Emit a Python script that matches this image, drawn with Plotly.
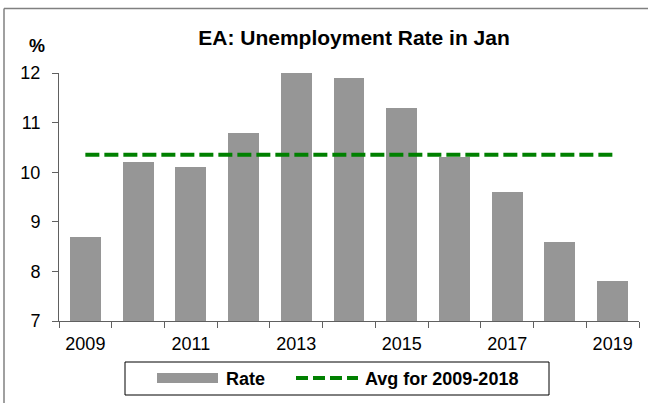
import plotly.graph_objects as go

# ---- data ----
years = [2009, 2010, 2011, 2012, 2013, 2014, 2015, 2016, 2017, 2018, 2019]
rate = [8.7, 10.2, 10.1, 10.8, 12.0, 11.9, 11.3, 10.3, 9.6, 8.6, 7.8]
avg_value = 10.35
avg_years = [2009, 2019]
tick_years = [2009, 2011, 2013, 2015, 2017, 2019]
tick_text = [str(y) for y in tick_years]
boundaries = [2008.5 + i for i in range(12)]
title_text = "EA: Unemployment Rate in Jan"
rate_name = "Rate"
avg_name = "Avg for 2009-2018"

W, H = 648, 403
L, R, T, B = 59, 9, 73, 82
PW = W - L - R
PH = H - T - B

def px_x(px):
    return (px - L) / PW

def px_y(py):
    return (H - B - py) / PH

FONT = "Liberation Sans, Arial, sans-serif"
AXC = "#606060"
GREEN = "#008000"
GREY = "#969696"

fig = go.Figure()
fig.add_trace(go.Bar(x=years, y=rate, width=0.585, marker=dict(color=GREY, line=dict(width=0)),
                     name=rate_name, showlegend=False))
fig.add_trace(go.Scatter(x=avg_years, y=[avg_value] * len(avg_years), mode="lines",
                         line=dict(color=GREEN, width=4, dash="14px,5px"),
                         name=avg_name, showlegend=False))

shapes = [
    # outer frame (top and left)
    dict(type="line", xref="paper", yref="paper", x0=px_x(4), x1=px_x(W + 5), y0=px_y(8.5), y1=px_y(8.5),
         line=dict(color="#808080", width=1.5)),
    dict(type="line", xref="paper", yref="paper", x0=px_x(4), x1=px_x(4), y0=px_y(8.5), y1=px_y(H + 5),
         line=dict(color="#808080", width=1.5)),
    # legend box
    dict(type="rect", xref="paper", yref="paper", x0=px_x(125), x1=px_x(549), y0=px_y(395), y1=px_y(362),
         line=dict(color="black", width=1), fillcolor="white"),
    dict(type="rect", xref="paper", yref="paper", x0=px_x(157), x1=px_x(218), y0=px_y(383), y1=px_y(373),
         line=dict(width=0), fillcolor=GREY),
    dict(type="line", xref="paper", yref="paper", x0=px_x(296), x1=px_x(358), y0=px_y(378), y1=px_y(378),
         line=dict(color=GREEN, width=4, dash="12px,5px")),
]

annotations = [
    dict(text="<b>%</b>", xref="paper", yref="paper", x=px_x(37), y=px_y(46), showarrow=False,
         xanchor="center", yanchor="middle", font=dict(family=FONT, size=18, color="black")),
    dict(text="<b>" + rate_name + "</b>", xref="paper", yref="paper", x=px_x(224), y=px_y(378.5),
         showarrow=False, xanchor="left", yanchor="middle", font=dict(family=FONT, size=18, color="black")),
    dict(text="<b>" + avg_name + "</b>", xref="paper", yref="paper", x=px_x(363), y=px_y(378.5),
         showarrow=False, xanchor="left", yanchor="middle", font=dict(family=FONT, size=18, color="black")),
]

fig.update_layout(
    width=W, height=H,
    margin=dict(l=L, r=R, t=T, b=B, pad=0),
    paper_bgcolor="white", plot_bgcolor="white",
    title=dict(text="<b>" + title_text + "</b>", x=354 / W, xanchor="center", xref="container",
               y=1 - 38 / H, yanchor="middle", yref="container",
               font=dict(family=FONT, size=21, color="black")),
    showlegend=False,
    bargap=0,
    shapes=shapes,
    annotations=annotations,
    xaxis=dict(
        range=[2008.5, 2019.5], tickmode="array", tickvals=tick_years, ticktext=tick_text,
        ticks="", showline=True, linecolor=AXC, linewidth=1, showgrid=False, zeroline=False,
        tickfont=dict(family=FONT, size=18, color="black"), ticklabelstandoff=6,
        minor=dict(tickmode="array", tickvals=boundaries, ticks="outside", ticklen=6,
                   tickcolor=AXC, tickwidth=1, showgrid=False),
    ),
    yaxis=dict(
        range=[7, 12], tickmode="array", tickvals=[7, 8, 9, 10, 11, 12],
        ticks="outside", ticklen=6, tickcolor=AXC, tickwidth=1,
        showline=True, linecolor=AXC, linewidth=1, showgrid=False, zeroline=False,
        tickfont=dict(family=FONT, size=18, color="black"), ticklabelstandoff=8,
    ),
)

fig.write_html("out.html", config={"displayModeBar": False},
               post_script="document.body.style.margin='0';document.body.style.overflow='hidden';")
